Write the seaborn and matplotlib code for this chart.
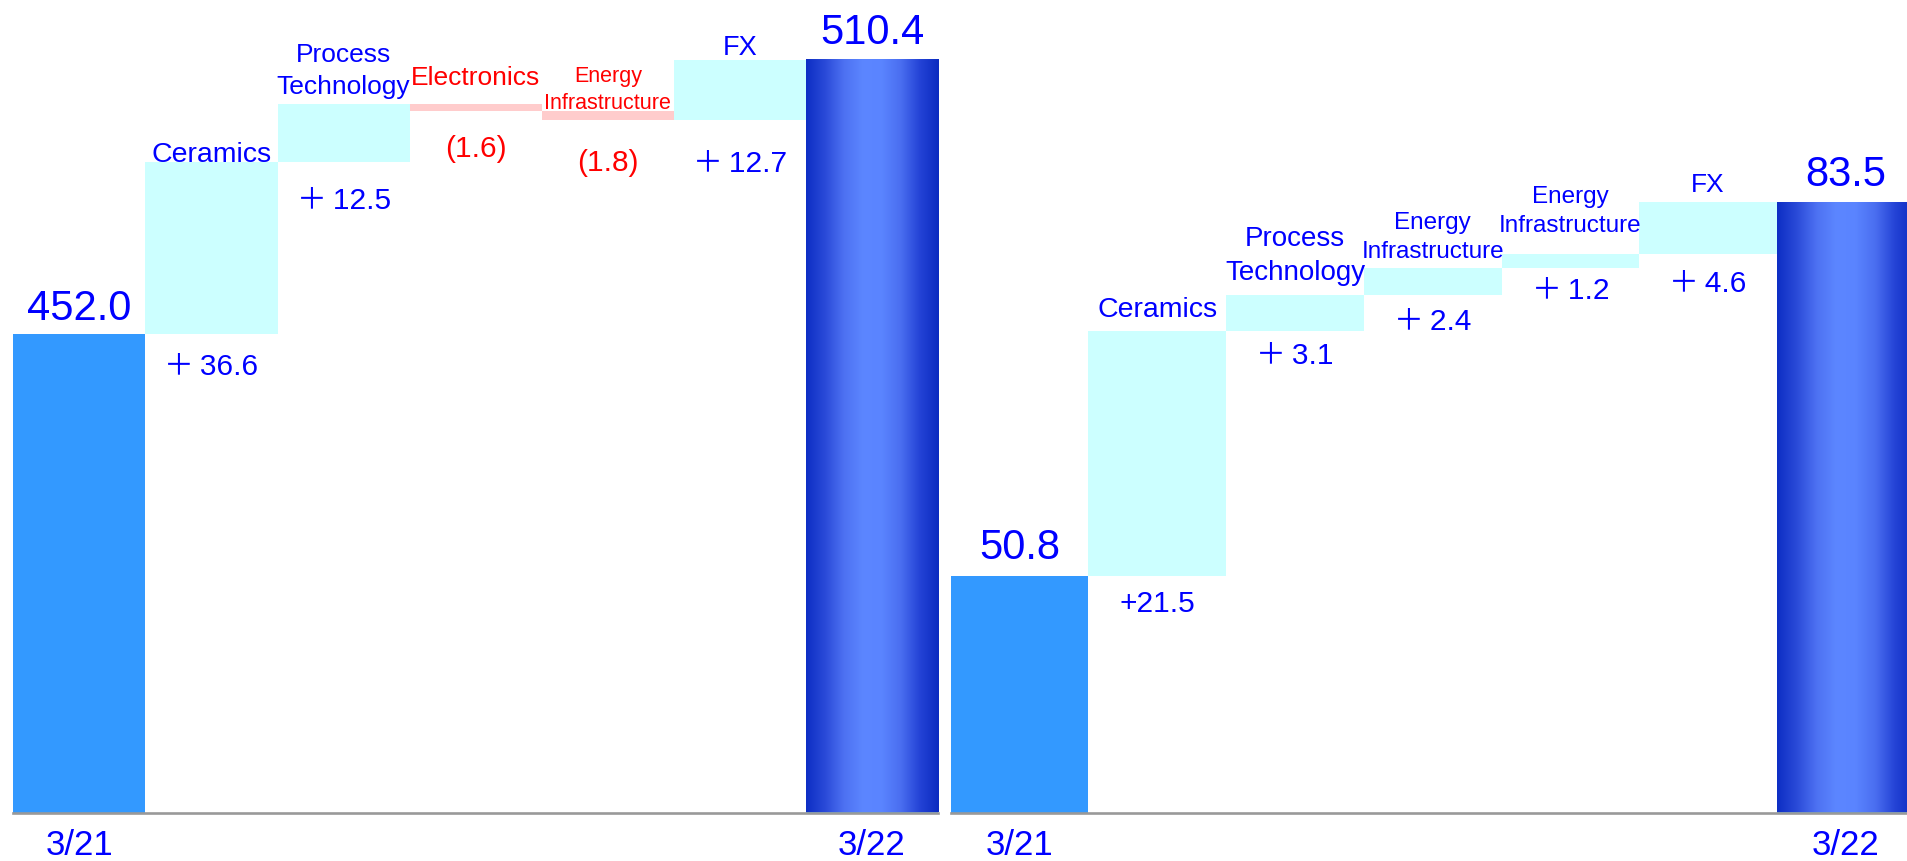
import numpy as np
import pandas as pd
import matplotlib
matplotlib.use("Agg")
import matplotlib.pyplot as plt
import seaborn as sns
from matplotlib.colors import LinearSegmentedColormap
from matplotlib.transforms import ScaledTranslation

# ---- data -------------------------------------------------------------
period_labels = ["3/21", "3/22"]

sales_steps = ["Ceramics", "Process\nTechnology", "Electronics",
               "Energy\nInfrastructure", "FX"]
sales_start = 452.0
sales_deltas = [36.6, 12.5, -1.6, -1.8, 12.7]
sales_end = 510.4
sales_delta_text = ["＋36.6", "＋12.5", "(1.6)", "(1.8)", "＋12.7"]

profit_steps = ["Ceramics", "Process\nTechnology", "Energy\nInfrastructure",
                "Energy\nInfrastructure", "FX"]
profit_start = 50.8
profit_deltas = [21.5, 3.1, 2.4, 1.2, 4.6]
profit_end = 83.5
profit_delta_text = ["+21.5", "＋3.1", "＋2.4", "＋1.2", "＋4.6"]

# ---- style ------------------------------------------------------------
BLUE_TXT = "#0000FF"
RED_TXT = "#FF0000"
START_BAR = "#3399FF"
UP_BAR = "#CCFFFF"
DOWN_BAR = "#FFCCCC"
END_RAMP = ["#0D2EC4", "#2A4AD8", "#4D71F2", "#5C86FF", "#5A84FF",
            "#4A6EF0", "#2443D6", "#0B2BC0"]

sns.set_theme(style="white")
plt.rcParams["font.family"] = ["Liberation Sans", "Noto Sans CJK JP", "DejaVu Sans"]

W, H, DPI = 1907, 861, 100
fig = plt.figure(figsize=(W / DPI, H / DPI), dpi=DPI)
fig.patch.set_facecolor("white")

BASE_PX = 812.5


def spaced(label):
    # a little air after the wide plus sign
    return label.replace("＋", "＋\u2009")


def waterfall(ax, start, deltas, end, steps, delta_text, ylim, total_gaps,
              step_sizes, step_gaps, value_gaps, value_size):
    levels = np.concatenate([[start], start + np.cumsum(deltas)])
    lo = np.minimum(levels[:-1], levels[1:])
    hi = np.maximum(levels[:-1], levels[1:])
    n = len(deltas) + 2
    df = pd.DataFrame({
        "pos": np.arange(n),
        "height": np.concatenate([[start], hi - lo, [end]]),
        "bottom": np.concatenate([[0.0], lo, [0.0]]),
    })
    sns.barplot(data=df, x="pos", y="height", bottom=df["bottom"].values,
                width=1.0, color=START_BAR, saturation=1, errorbar=None,
                linewidth=0, ax=ax)
    colors = [START_BAR] + [UP_BAR if d >= 0 else DOWN_BAR for d in deltas] + [START_BAR]
    bars = list(ax.patches)
    for p, c in zip(bars, colors):
        p.set_facecolor(c)
        p.set_edgecolor("none")

    ax.set_xlim(-0.5, n - 0.5)
    ax.set_ylim(*ylim)

    # shaded cylinder look on the closing bar (kept inside the visible range)
    last = bars[-1]
    cmap = LinearSegmentedColormap.from_list("ramp", END_RAMP)
    grad = np.linspace(0, 1, 256)[None, :]
    x0 = last.get_x()
    y_lo = max(last.get_y(), ylim[0])
    ax.imshow(grad, cmap=cmap, aspect="auto", interpolation="bilinear",
              extent=[x0, x0 + last.get_width(), y_lo, last.get_y() + last.get_height()],
              zorder=1.5)
    ax.set_xlim(-0.5, n - 0.5)
    ax.set_ylim(*ylim)

    def shifted(dy_px):
        return ax.transData + ScaledTranslation(0, dy_px / DPI, fig.dpi_scale_trans)

    # opening / closing totals
    for (x, v), g in zip([(0, start), (n - 1, end)], total_gaps):
        ax.text(x, v, f"{v:.1f}", transform=shifted(g - 0.212 * 30 * DPI / 72),
                ha="center", va="bottom", fontsize=30, color=BLUE_TXT)

    # step names above and amounts below each floating bar
    for i, d in enumerate(deltas):
        x = i + 1
        col = BLUE_TXT if d >= 0 else RED_TXT
        fs = step_sizes[i]
        ax.text(x, hi[i], steps[i],
                transform=shifted(step_gaps[i] - 0.212 * fs * DPI / 72),
                ha="center", va="bottom", multialignment="center",
                fontsize=fs, color=col, linespacing=1.4)
        ax.text(x, lo[i], spaced(delta_text[i]), transform=shifted(-value_gaps[i]),
                ha="center", va="top", fontsize=value_size, color=col)

    ax.set_xticks(range(n), [period_labels[0]] + [""] * (n - 2) + [period_labels[1]])
    ax.tick_params(axis="x", length=0, pad=12, labelsize=25, labelcolor=BLUE_TXT)
    ax.set_yticks([])
    ax.set_xlabel("")
    ax.set_ylabel("")
    for side in ["left", "right", "top"]:
        ax.spines[side].set_visible(False)
    ax.spines["bottom"].set_color("#999999")
    ax.spines["bottom"].set_linewidth(1.9)
    ax.spines["bottom"].set_zorder(3)
    ax.set_facecolor("none")


y_frac = (H - BASE_PX) / H
h_frac = BASE_PX / H

ax_l = fig.add_axes([13.4 / W, y_frac, 924.6 / W, h_frac])
waterfall(ax_l, sales_start, sales_deltas, sales_end, sales_steps, sales_delta_text,
          ylim=(350, 350 + BASE_PX / 4.69), total_gaps=[14, 16],
          step_sizes=[20.5, 19, 19, 15.5, 19.5],
          step_gaps=[1, 10.5, 19, 2, 5],
          value_gaps=[19, 25, 24, 29, 30], value_size=21.5)

ax_r = fig.add_axes([950.7 / W, y_frac, 963.9 / W, h_frac])
waterfall(ax_r, profit_start, profit_deltas, profit_end, profit_steps, profit_delta_text,
          ylim=(30, 30 + BASE_PX / 11.39), total_gaps=[16.5, 16.5],
          step_sizes=[20.5, 20, 17.5, 17.5, 19],
          step_gaps=[14, 15, 10, 23, 11],
          value_gaps=[14.5, 11, 13, 8.5, 15.5], value_size=21.5)

fig.savefig("out.png", dpi=DPI, facecolor="white")
